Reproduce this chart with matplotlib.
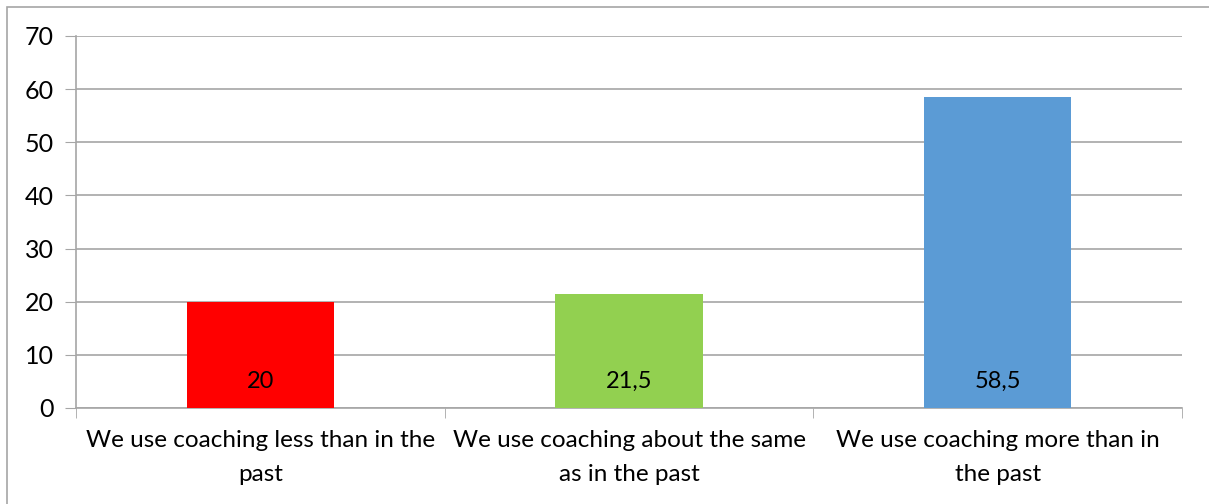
import matplotlib.pyplot as plt
from matplotlib.patches import Rectangle

categories = ["We use coaching less than in the\npast",
              "We use coaching about the same\nas in the past",
              "We use coaching more than in\nthe past"]
values = [20, 21.5, 58.5]
value_labels = ["20", "21,5", "58,5"]
colors = ["#ff0000", "#92d050", "#5b9bd5"]

plt.rcParams['font.family'] = ['Lato', 'DejaVu Sans']

fig = plt.figure(figsize=(12.09, 5.04), dpi=100)
ax = fig.add_axes([0.0629, 0.1905, 0.9148, 0.7381])

x = range(len(categories))
ax.bar(x, values, width=0.4, color=colors, zorder=3)

for xi, lbl in zip(x, value_labels):
    ax.text(xi, 5, lbl, ha='center', va='center', fontsize=17, color='black', zorder=4)

ax.set_xlim(-0.5, len(categories) - 0.5)
ax.set_ylim(0, 70)
ax.set_yticks(range(0, 71, 10))
ax.yaxis.grid(True, color='#a6a6a6', linewidth=1.2, zorder=0)
ax.tick_params(axis='y', length=8, color='#a6a6a6', labelsize=18, pad=8)

# category labels sit between boundary ticks
ax.set_xticks(list(x))
ax.set_xticklabels(categories, fontsize=17.5, linespacing=1.75)
ax.tick_params(axis='x', length=0, pad=16)
ax.set_xticks([-0.5, 0.5, 1.5, 2.5], minor=True)
ax.tick_params(axis='x', which='minor', length=7, color='#a6a6a6', direction='out')

for side in ['top', 'right']:
    ax.spines[side].set_visible(False)
for side in ['left', 'bottom']:
    ax.spines[side].set_color('#a6a6a6')
    ax.spines[side].set_linewidth(1.2)

# chart frame
fig.patches.append(Rectangle((7 / 1209, -0.1), 1.2, 1 - 7 / 504 + 0.1,
                             transform=fig.transFigure, fill=False,
                             edgecolor='#a6a6a6', linewidth=1.2))

fig.savefig('out.png', dpi=100)
